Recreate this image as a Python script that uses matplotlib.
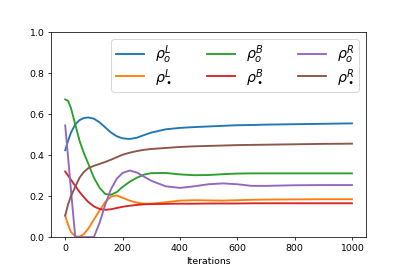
import numpy as np
import matplotlib.pyplot as plt

# iteration grid
iters = [0, 10, 20, 35, 50, 65, 80, 100, 120, 140, 160, 180, 200, 225, 250,
         275, 300, 350, 400, 450, 500, 550, 600, 650, 700, 800, 900, 1000]

rho_o_L = [0.424, 0.47, 0.51, 0.55, 0.571, 0.581, 0.584, 0.578, 0.56, 0.535, 0.51, 0.492, 0.482, 0.479,
           0.485, 0.498, 0.51, 0.526, 0.533, 0.537, 0.54, 0.543, 0.546, 0.547, 0.549, 0.551, 0.553, 0.555]
rho_b_L = [0.105, 0.06, 0.025, 0.004, 0.002, 0.015, 0.04, 0.085, 0.13, 0.172, 0.198, 0.203, 0.192, 0.178,
           0.168, 0.163, 0.163, 0.17, 0.178, 0.18, 0.179, 0.178, 0.18, 0.182, 0.183, 0.184, 0.185, 0.185]
rho_o_B = [0.672, 0.665, 0.63, 0.55, 0.47, 0.41, 0.36, 0.29, 0.24, 0.21, 0.207, 0.22, 0.245, 0.27,
           0.29, 0.305, 0.312, 0.313, 0.306, 0.302, 0.303, 0.307, 0.31, 0.311, 0.311, 0.311, 0.311, 0.311]
rho_b_B = [0.32, 0.30, 0.28, 0.25, 0.22, 0.195, 0.172, 0.15, 0.137, 0.133, 0.136, 0.142, 0.148, 0.153,
           0.157, 0.16, 0.161, 0.162, 0.163, 0.163, 0.164, 0.164, 0.164, 0.165, 0.165, 0.165, 0.165, 0.165]
rho_o_R = [0.545, 0.39, 0.23, 0.0, 0.0, 0.0, 0.0, 0.0, 0.07, 0.16, 0.235, 0.285, 0.313, 0.325,
           0.315, 0.295, 0.275, 0.248, 0.24, 0.248, 0.258, 0.262, 0.258, 0.25, 0.25, 0.253, 0.254, 0.254]
rho_b_R = [0.105, 0.16, 0.2, 0.245, 0.29, 0.318, 0.336, 0.348, 0.357, 0.367, 0.378, 0.39, 0.402, 0.412,
           0.42, 0.426, 0.43, 0.435, 0.44, 0.443, 0.445, 0.447, 0.449, 0.45, 0.451, 0.453, 0.455, 0.456]

labels = [r'$\rho_o^L$', r'$\rho_\bullet^L$', r'$\rho_o^B$',
          r'$\rho_\bullet^B$', r'$\rho_o^R$', r'$\rho_\bullet^R$']
series = [rho_o_L, rho_b_L, rho_o_B, rho_b_B, rho_o_R, rho_b_R]

fig, ax = plt.subplots(figsize=(6, 4))
fig.subplots_adjust(left=0.125, right=0.9, bottom=0.125, top=0.88)

for vals, lab in zip(series, labels):
    ax.plot(iters, vals, label=lab, linewidth=2)

ax.set_ylim(0, 1)
ax.set_xlabel('Iterations')
ax.legend(loc='upper right', ncol=3, fontsize=15, labelspacing=0.05,
          borderpad=0.3, columnspacing=2.4)

plt.savefig('out.png', dpi=407 / 6)
